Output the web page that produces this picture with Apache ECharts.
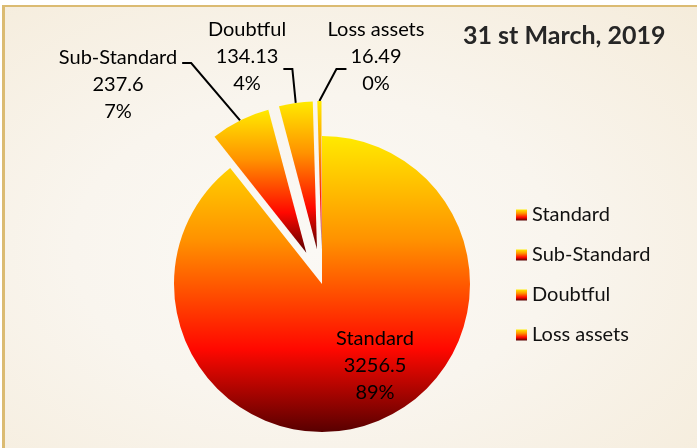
<!DOCTYPE html>
<html>
<head>
<meta charset="utf-8">
<script src="https://cdn.jsdelivr.net/npm/echarts@6/dist/echarts.min.js"></script>
<style>
  html, body { margin: 0; padding: 0; background: #ffffff; }
  #frame {
    position: absolute; left: 2px; top: 5px; width: 695px; height: 443px;
    border-left: 3px solid #dbbb72; border-top: 2px solid #dbbb72;
    box-sizing: border-box;
    background: radial-gradient(ellipse at 45% 55%, #fbf9f5 0%, #f9f5ee 45%, #f5ecdb 100%);
  }
  #main { position: absolute; left: 0; top: 0; width: 697px; height: 448px; }
</style>
</head>
<body>
<div id="frame"></div>
<div id="main"></div>
<script>
    // 分类和数值
    var categories = ['Standard', 'Sub-Standard', 'Doubtful', 'Loss assets'];
    var amounts = [3256.5, 237.6, 134.13, 16.49];
    var percentLabels = ['89%', '7%', '4%', '0%'];
    var exploded = [false, true, true, true];

    var chartFont = 'Lato';
    var labelSize = 20;
    var labelLineH = 27;
    var pieCenter = [322, 284];
    var pieRadius = 148;
    var explodeDist = 35;

    // 每个扇形都用同一个从黄到暗红的渐变
    function sliceGradient() {
        return new echarts.graphic.LinearGradient(0, 0, 0, 1, [
            { offset: 0, color: '#ffea00' },
            { offset: 0.35, color: '#ff9200' },
            { offset: 0.72, color: '#ff0800' },
            { offset: 1, color: '#580000' }
        ]);
    }

    // 标签摆放 [中心x, 中心y, 引线侧, 引线接在第几行, 行内下移]
    var labelSpots = [
        [375, 366, 'none', 0, 0],
        [118, 85, 'right', 0, 5],
        [247, 57, 'right', 1, 12],
        [376, 57, 'left', 1, 12]
    ];

    // 量文字宽度, 用来定引线端点
    var measureCtx = document.createElement('canvas').getContext('2d');
    measureCtx.font = labelSize + 'px ' + chartFont;
    function textWidth(s) {
        return measureCtx.measureText(s).width;
    }

    function labelLines(i) {
        return [categories[i], String(amounts[i]), percentLabels[i]];
    }

    var pieData = categories.map(function (name, i) {
        return {
            name: name,
            value: amounts[i],
            selected: exploded[i],
            itemStyle: { color: sliceGradient() },
            label: { position: i === 0 ? 'inside' : 'outside' },
            labelLine: { show: i !== 0 }
        };
    });

    var myChart = echarts.init(document.getElementById('main'), null, { renderer: 'canvas' });

    var option = {
        backgroundColor: 'transparent',
        animation: false,
        title: {
            text: '31 st March, 2019',
            left: 458,
            top: 18,
            textStyle: {
                fontFamily: chartFont,
                fontSize: 25,
                fontWeight: 'bold',
                color: '#262626'
            }
        },
        legend: {
            orient: 'vertical',
            left: 511,
            top: 200,
            itemWidth: 11,
            itemHeight: 11,
            itemGap: 20,
            icon: 'rect',
            selectedMode: false,
            data: categories,
            textStyle: {
                fontFamily: chartFont,
                fontSize: 20,
                lineHeight: 20,
                color: '#111111'
            }
        },
        series: [{
            type: 'pie',
            center: pieCenter,
            radius: pieRadius,
            startAngle: 90,
            clockwise: true,
            selectedMode: 'multiple',
            selectedOffset: explodeDist,
            avoidLabelOverlap: false,
            data: pieData,
            emphasis: { disabled: true },
            label: {
                show: true,
                formatter: function (p) {
                    return labelLines(p.dataIndex).map(function (s) {
                        return '{t|' + s + '}';
                    }).join('\n');
                },
                rich: {
                    t: {
                        width: 150,
                        align: 'center',
                        fontFamily: chartFont,
                        fontSize: labelSize,
                        lineHeight: labelLineH,
                        color: '#000000'
                    }
                }
            },
            labelLine: {
                show: true,
                lineStyle: { color: '#000000', width: 2 }
            },
            labelLayout: function (params) {
                var i = params.dataIndex;
                var spot = labelSpots[i];
                var rect = params.labelRect;
                // 爆炸出去的扇形, 标签和引线都在扇形自身坐标里, 先算偏移
                var ox = 0, oy = 0;
                var edge = params.labelLinePoints ? params.labelLinePoints[0] : null;
                if (exploded[i] && edge) {
                    var ex = edge[0] - pieCenter[0];
                    var ey = edge[1] - pieCenter[1];
                    var len = Math.sqrt(ex * ex + ey * ey) || 1;
                    ox = explodeDist * ex / len;
                    oy = explodeDist * ey / len;
                }
                var res = {
                    dx: spot[0] - (rect.x + rect.width / 2) - ox,
                    dy: spot[1] - (rect.y + rect.height / 2) - oy
                };
                if (spot[2] !== 'none' && edge) {
                    var lines = labelLines(i);
                    var blockH = lines.length * labelLineH;
                    var tw = textWidth(lines[spot[3]]);
                    var lineY = spot[1] - blockH / 2 + spot[3] * labelLineH + labelLineH / 2 + spot[4];
                    var endX, elbowX;
                    if (spot[2] === 'right') {
                        endX = spot[0] + tw / 2 + 5;
                        elbowX = endX + 9;
                    } else {
                        endX = spot[0] - tw / 2 - 4;
                        elbowX = endX - 10;
                    }
                    res.labelLinePoints = [
                        edge,
                        [elbowX - ox, lineY - oy],
                        [endX - ox, lineY - oy]
                    ];
                }
                return res;
            }
        }]
    };

    myChart.setOption(option);
</script>
</body>
</html>
